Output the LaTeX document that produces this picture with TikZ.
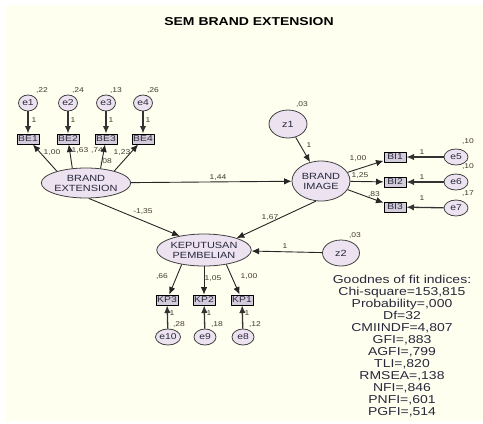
\documentclass[tikz,border=0pt]{standalone}
\usepackage{fontspec}
\setmainfont[FakeStretch=1.22]{Liberation Sans}
\usetikzlibrary{shapes.geometric,arrows.meta}

\definecolor{bgcol}{HTML}{FFFFF0}
\definecolor{latfill}{HTML}{ECE2F0}
\definecolor{obsfill}{HTML}{D4CCDA}
\definecolor{estcol}{HTML}{3E3A2C}
\definecolor{txtcol}{HTML}{28283C}

\tikzset{
  latent/.style={ellipse, draw=black!75, fill=latfill, line width=0.8bp, inner sep=0pt,
    align=center, text=txtcol, font=\fontsize{9}{10}\selectfont},
  errvar/.style={ellipse, draw=black!75, fill=latfill, line width=0.8bp, inner sep=0pt,
    minimum width=19bp, minimum height=16bp, text=txtcol, font=\fontsize{8.5}{8.5}\selectfont},
  obsbox/.style={rectangle, draw=black, fill=obsfill, line width=1bp, inner sep=0pt,
    minimum width=22bp, minimum height=10bp, text=txtcol, font=\fontsize{8.5}{8.5}\selectfont},
  est/.style={text=estcol, inner sep=0pt, font=\fontsize{7}{7}\selectfont},
  path/.style={->, draw=black!85, line width=0.9bp},
  errpath/.style={->, draw=black!80, line width=1.3bp},
}

\begin{document}
\begin{tikzpicture}[x=1bp,y=-1bp,>={Latex[length=7.5bp,width=6.5bp]},line join=bevel]
  \useasboundingbox (0,0) rectangle (483,423);
  \fill[bgcol] (6,5) rectangle (483,421);
  %%
  \node[font=\bfseries\fontsize{11.5}{12}\selectfont] (title) at (249,22) {SEM BRAND EXTENSION};
  % Node: BRAND EXTENSION
  \node[latent, minimum width=82bp, minimum height=30bp] (bext) at (86,183) {BRAND\\EXTENSION};
  % Node: BRAND IMAGE
  \node[latent, minimum width=58bp, minimum height=40bp] (bimg) at (321,181) {BRAND\\IMAGE};
  % Node: KEPUTUSAN PEMBELIAN
  \node[latent, minimum width=92bp, minimum height=32bp] (kep) at (204,250) {KEPUTUSAN\\PEMBELIAN};
  % Node: z1, z2
  \node[latent, minimum width=38bp, minimum height=28bp] (z1) at (288,124) {z1};
  \node[latent, minimum width=37bp, minimum height=26bp] (z2) at (341,253) {z2};
  % Node: BE1 .. BE4
  \node[obsbox] (be1) at (28,139) {BE1};
  \node[obsbox] (be2) at (68,139) {BE2};
  \node[obsbox] (be3) at (106,139) {BE3};
  \node[obsbox] (be4) at (143,139) {BE4};
  \node[errvar] (e1) at (28,103) {e1};
  \node[errvar] (e2) at (68,103) {e2};
  \node[errvar] (e3) at (106,103) {e3};
  \node[errvar] (e4) at (143,103) {e4};
  % Node: BI1 .. BI3
  \node[obsbox] (bi1) at (395,157) {BI1};
  \node[obsbox] (bi2) at (395,182) {BI2};
  \node[obsbox] (bi3) at (395,207) {BI3};
  \node[errvar, minimum width=24bp] (e5) at (456,157) {e5};
  \node[errvar, minimum width=24bp] (e6) at (456,182) {e6};
  \node[errvar, minimum width=24bp] (e7) at (456,208) {e7};
  % Node: KP3 .. KP1
  \node[obsbox] (kp3) at (167,300) {KP3};
  \node[obsbox] (kp2) at (204,300) {KP2};
  \node[obsbox] (kp1) at (242,300) {KP1};
  \node[errvar, minimum width=25bp] (e10) at (168,337) {e10};
  \node[errvar, minimum width=22bp] (e9) at (205,337) {e9};
  \node[errvar, minimum width=22bp] (e8) at (243,337) {e8};

  % Edge: structural paths
  \draw[path] (bext) -- (bimg);
  \draw[path] (bext.280) -- (kep.150);
  \draw[path] (bimg.256) -- (kep.20);
  \draw[path] (z1) -- (bimg);
  \draw[path] (z2) -- (kep);
  % Edge: BRAND EXTENSION -> BE
  \draw[path] (bext.158) -- (be1);
  \draw[path] (bext.133) -- (be2);
  \draw[path] (bext.45) -- (be3);
  \draw[path] (bext.23) -- (be4);
  % Edge: BRAND IMAGE -> BI
  \draw[path] (bimg.18) -- (bi1);
  \draw[path] (bimg) -- (bi2);
  \draw[path] (bimg.342) -- (bi3);
  % Edge: KEPUTUSAN PEMBELIAN -> KP
  \draw[path] (kep.213) -- (kp3);
  \draw[path] (kep) -- (kp2);
  \draw[path] (kep.327) -- (kp1);
  % Edge: errors
  \draw[errpath] (e1) -- (be1);
  \draw[errpath] (e2) -- (be2);
  \draw[errpath] (e3) -- (be3);
  \draw[errpath] (e4) -- (be4);
  \draw[errpath] (e5) -- (bi1);
  \draw[errpath] (e6) -- (bi2);
  \draw[errpath] (e7) -- (bi3);
  \draw[errpath] (e10) -- (kp3);
  \draw[errpath] (e9) -- (kp2);
  \draw[errpath] (e8) -- (kp1);

  % Estimates
  \node[est] (v1) at (42,91) {,22};
  \node[est] (v2) at (78,91) {,24};
  \node[est] (v3) at (116,91) {,13};
  \node[est] (v4) at (153,91) {,26};
  \node[est] (f1) at (34,120) {1};
  \node[est] (f2) at (73,120) {1};
  \node[est] (f3) at (111,120) {1};
  \node[est] (f4) at (148,120) {1};
  \node[est] (w1) at (52,153) {1,00};
  \node[est] (w2) at (80,151) {1,63};
  \node[est] (w3) at (97,151) {,74};
  \node[est] (w4) at (122,153) {1,23};
  \node[est] (vbx) at (106,162) {,08};
  \node[est] (b1) at (218,178) {1,44};
  \node[est] (b2) at (143,212) {-1,35};
  \node[est] (b3) at (270,218) {1,67};
  \node[est] (vz1) at (302,105) {,03};
  \node[est] (fz1) at (309,145) {1};
  \node[est] (w5) at (358,159) {1,00};
  \node[est] (w6) at (360,176) {1,25};
  \node[est] (w7) at (374,195) {,83};
  \node[est] (f5) at (422,152) {1};
  \node[est] (f6) at (422,177) {1};
  \node[est] (f7) at (422,198) {1};
  \node[est] (v5) at (468,142) {,10};
  \node[est] (v6) at (468,167) {,10};
  \node[est] (v7) at (468,194) {,17};
  \node[est] (vz2) at (355,236) {,03};
  \node[est] (fz2) at (285,246) {1};
  \node[est] (w8) at (162,277) {,66};
  \node[est] (w9) at (213,279) {1,05};
  \node[est] (w10) at (249,277) {1,00};
  \node[est] (f8) at (172,313) {1};
  \node[est] (f9) at (209,313) {1};
  \node[est] (f10) at (247,313) {1};
  \node[est] (v8) at (179,324) {,28};
  \node[est] (v9) at (217,324) {,18};
  \node[est] (v10) at (255,324) {,12};

  % Fit indices
  \node[align=center, inner sep=0pt, text=txtcol, font=\fontsize{11.5}{12}\selectfont] (fit) at (402,346)
    {Goodnes of fit indices:\\Chi-square=153,815\\Probability=,000\\Df=32\\CMIINDF=4,807\\GFI=,883\\AGFI=,799\\TLI=,820\\RMSEA=,138\\NFI=,846\\PNFI=,601\\PGFI=,514};
  %
\end{tikzpicture}
\end{document}
